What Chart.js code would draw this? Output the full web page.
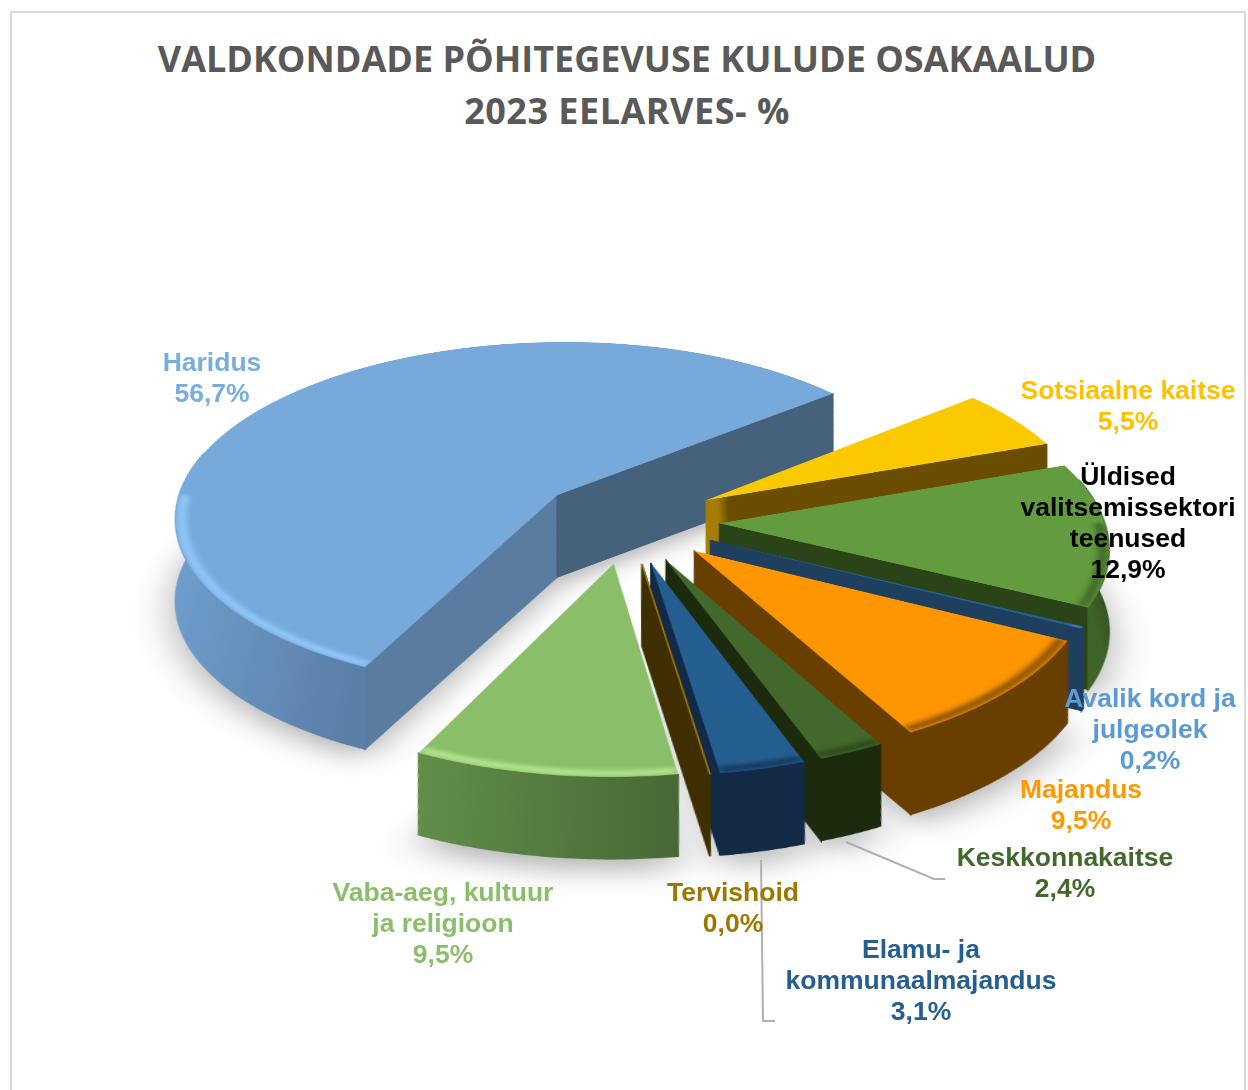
<!DOCTYPE html>
<html lang="et">
<head>
<meta charset="utf-8">
<title>Valdkondade põhitegevuse kulude osakaalud</title>
<script src="https://cdn.jsdelivr.net/npm/chart.js@4"></script>
<style>
  html, body { margin: 0; background: #fff; }
  body { position: relative; width: 1248px; height: 1090px; overflow: hidden; }
  #frame { position: absolute; left: 10px; top: 11px; width: 1232px; height: 1200px; border: 2px solid #d9d9d9; }
  #title { position: absolute; left: 10px; width: 1234px; top: 33px; text-align: center; margin: 0;
    font: 700 36px/52px "Open Sans", sans-serif; color: #595959; }
  #title span { letter-spacing: 0.5px; }
  #pie { position: absolute; left: -72px; top: -149px; transform-origin: 700px 644px; }
  #leaders { position: absolute; left: 0; top: 0; }
  .lbl { position: absolute; transform: translateX(-50%); text-align: center;
    font: 700 26.5px/31px "Liberation Sans", Arial, sans-serif; }
</style>
</head>
<body>
<div id="frame"></div>
<h1 id="title">VALDKONDADE PÕHITEGEVUSE KULUDE OSAKAALUD<br><span>2023 EELARVES- %</span></h1>
<canvas id="pie" width="1400" height="1400"></canvas>
<svg id="leaders" width="1248" height="1090" fill="none" stroke="#b0b0b0" stroke-width="2">
  <polyline points="846,842 934,879 945,879"/>
  <polyline points="761,860 763,1021 775,1021"/>
</svg>
<div id="labels"></div>
<script>
const CATEGORIES = ["Haridus", "Sotsiaalne kaitse", "Üldised valitsemissektori teenused", "Avalik kord ja julgeolek",
  "Majandus", "Keskkonnakaitse", "Elamu- ja kommunaalmajandus", "Tervishoid", "Vaba-aeg, kultuur ja religioon"];
const VALUES = [56.7, 5.5, 12.9, 0.2, 9.5, 2.4, 3.1, 0.0, 9.5];

// colours per slice: top face, radial cut face, rim (left, right), bevel, label
const TOP_COLORS = ["#77a9da", "#fac900", "#639c3e", "#255e91", "#fd9600", "#43682b", "#255e91", "#a5790a", "#8abe68"];
const CUT_COLORS = ["#5a7ca1", "#6b4d00", "#2a4317", "#1f3f5f", "#693f00", "#1c2b0e", "#122a45", "#3f2f00", "#4a6a36"];
const BACK_CUT_COLOR = "#46617c"; // Haridus face towards Sotsiaalne kaitse
const RIM_LEFT = ["#6f9fcf", "#6b4d00", "#3f6428", "#1f3f5f", "#693f00", "#1c2b0e", "#122a45", "#3f2f00", "#628f4a"];
const RIM_RIGHT = ["#5a7ea6", "#6b4d00", "#2f4a1c", "#1f3f5f", "#693f00", "#1c2b0e", "#122a45", "#3f2f00", "#486835"];
const BEVEL_COLORS = ["#93c8fb", "#fac900", "#3f6a28", "#5b9bd5", "#8a5200", "#2c4a1a", "#14395c", "#a5790a", "#b4e690"];
const LABEL_COLORS = ["#77aee0", "#ffc000", "#000000", "#5b9bd5", "#ff9900", "#43682b", "#255e91", "#9e7600", "#8abe68"];

// label centre x, top y, wrap width
const LABEL_BOX = [[212, 347, 200], [1128, 375, 240], [1128, 461, 226], [1150, 683, 190], [1081, 774, 160],
  [1065, 842, 240], [921, 934, 290], [733, 877, 160], [443, 877, 232]];

const PIE_RADIUS = 378;
const EXPLODE = 90;
const WALL_HEIGHT = 82; // on screen
const PERSPECTIVE = 2900;
const TILT_DEG = 63.1;
const ORIGIN_X = 700, ORIGIN_Y = 644; // same as transform-origin of #pie
const SIN = Math.sin(TILT_DEG * Math.PI / 180), COS = Math.cos(TILT_DEG * Math.PI / 180);

document.getElementById("pie").style.transform = `perspective(${PERSPECTIVE}px) rotateX(${TILT_DEG}deg)`;

// canvas point that ends up WALL_HEIGHT px straight below (px, py) once the canvas is tilted
function below(px, py) {
  const y = py - ORIGIN_Y;
  const s = PERSPECTIVE / (PERSPECTIVE - y * SIN);
  const X = (px - ORIGIN_X) * s, Y = y * COS * s + WALL_HEIGHT;
  const y2 = Y * PERSPECTIVE / (COS * PERSPECTIVE + Y * SIN);
  const s2 = PERSPECTIVE / (PERSPECTIVE - y2 * SIN);
  return [X / s2 + ORIGIN_X, y2 + ORIGIN_Y];
}

function rimRanges(a, b, margin) {
  // parts of the sector's arc that face the viewer
  const out = [];
  for (let k = -1; k < 3; k++) {
    const lo = Math.max(a, k * 2 * Math.PI - margin);
    const hi = Math.min(b, k * 2 * Math.PI + Math.PI + margin);
    if (hi > lo) out.push([lo, hi]);
  }
  return out;
}

function rimPoints(g, lo, hi) {
  const pts = [];
  for (let t = 0; t <= 60; t++) {
    const a = lo + (hi - lo) * t / 60;
    pts.push([g.x + Math.cos(a) * g.outerRadius, g.y + Math.sin(a) * g.outerRadius]);
  }
  return pts;
}

function fillCut(ctx, g, angle, color, i) {
  const ex = g.x + Math.cos(angle) * g.outerRadius, ey = g.y + Math.sin(angle) * g.outerRadius;
  const p1 = below(ex, ey), p2 = below(g.x, g.y);
  let paint = color;
  if (i === 1) {
    // lit end of the Sotsiaalne kaitse wall next to its tip
    paint = ctx.createLinearGradient(g.x, 0, ex, 0);
    paint.addColorStop(0, "#a57d00");
    paint.addColorStop(0.03, "#a57d00");
    paint.addColorStop(0.06, color);
  }
  ctx.fillStyle = paint;
  ctx.strokeStyle = paint;
  ctx.lineWidth = 1.5;
  ctx.beginPath();
  ctx.moveTo(g.x, g.y);
  ctx.lineTo(ex, ey);
  ctx.lineTo(p1[0], p1[1]);
  ctx.lineTo(p2[0], p2[1]);
  ctx.closePath();
  ctx.fill();
  ctx.stroke();
}

const sideWalls = {
  id: "sideWalls",
  afterDatasetsUpdate(chart) {
    // pull every slice out of the pie along its own mid angle
    chart.getDatasetMeta(0).data.forEach(el => {
      const mid = (el.startAngle + el.endAngle) / 2;
      el.x += Math.cos(mid) * EXPLODE;
      el.y += Math.sin(mid) * EXPLODE;
    });
  },
  beforeDatasetsDraw(chart) {
    const ctx = chart.ctx;
    const arcs = chart.getDatasetMeta(0).data;
    // soft shadow first
    ctx.save();
    ctx.shadowColor = "rgba(0,0,0,0.3)";
    ctx.shadowBlur = 36;
    ctx.shadowOffsetY = 16;
    arcs.forEach((g, i) => {
      if (VALUES[i] === 0) return;
      const apex = below(g.x, g.y);
      ctx.fillStyle = "#ffffff";
      ctx.beginPath();
      ctx.moveTo(apex[0], apex[1]);
      rimPoints(g, g.startAngle, g.endAngle).forEach(p => {
        const q = below(p[0], p[1]);
        ctx.lineTo(q[0], q[1]);
      });
      ctx.closePath();
      ctx.fill();
    });
    ctx.restore();

    arcs.forEach((g, i) => {
      if (Math.cos(g.startAngle) < 0 && VALUES[i] > 0) fillCut(ctx, g, g.startAngle, CUT_COLORS[i], i);
      if (Math.cos(g.endAngle) > 0) fillCut(ctx, g, g.endAngle, i === 0 ? BACK_CUT_COLOR : CUT_COLORS[i], i);
      rimRanges(g.startAngle, g.endAngle, 0.25).forEach(([lo, hi]) => {
        const pts = rimPoints(g, lo, hi);
        const grad = ctx.createLinearGradient(pts[60][0], 0, pts[0][0] + 0.1, 0);
        grad.addColorStop(0, RIM_LEFT[i]);
        grad.addColorStop(1, RIM_RIGHT[i]);
        ctx.fillStyle = grad;
        ctx.strokeStyle = grad;
        ctx.lineWidth = 1.5;
        ctx.beginPath();
        pts.forEach((p, t) => (t ? ctx.lineTo(p[0], p[1]) : ctx.moveTo(p[0], p[1])));
        pts.slice().reverse().forEach(p => {
          const q = below(p[0], p[1]);
          ctx.lineTo(q[0], q[1]);
        });
        ctx.closePath();
        ctx.fill();
        ctx.stroke();
      });
    });
  },
  afterDatasetsDraw(chart) {
    const ctx = chart.ctx;
    chart.getDatasetMeta(0).data.forEach((g, i) => {
      if (VALUES[i] === 0) {
        // an empty slice only shows as a thin line on its wall
        ctx.strokeStyle = TOP_COLORS[i];
        ctx.lineWidth = 1.5;
        ctx.beginPath();
        ctx.moveTo(g.x, g.y);
        ctx.lineTo(g.x + Math.cos(g.startAngle) * g.outerRadius, g.y + Math.sin(g.startAngle) * g.outerRadius);
        ctx.stroke();
        return;
      }
      rimRanges(g.startAngle, g.endAngle, 0).forEach(([lo, hi]) => {
        ctx.save();
        ctx.beginPath();
        ctx.moveTo(g.x, g.y);
        ctx.arc(g.x, g.y, g.outerRadius, g.startAngle, g.endAngle);
        ctx.closePath();
        ctx.clip();
        ctx.strokeStyle = BEVEL_COLORS[i];
        ctx.filter = "blur(3px)";
        ctx.lineWidth = 9;
        ctx.beginPath();
        ctx.arc(g.x, g.y, g.outerRadius - 6, lo, hi);
        ctx.stroke();
        ctx.restore();
      });
    });
  }
};

new Chart(document.getElementById("pie"), {
  type: "pie",
  data: {
    labels: CATEGORIES,
    datasets: [{ data: VALUES, backgroundColor: TOP_COLORS, borderWidth: 0 }]
  },
  options: {
    responsive: false,
    animation: false,
    events: [],
    radius: PIE_RADIUS,
    rotation: 205.8,
    plugins: { legend: { display: false }, tooltip: { enabled: false } }
  },
  plugins: [sideWalls]
});

const holder = document.getElementById("labels");
CATEGORIES.forEach((name, i) => {
  const [x, y, w] = LABEL_BOX[i];
  const div = document.createElement("div");
  div.className = "lbl";
  div.style.cssText = `left:${x}px;top:${y}px;width:${w}px;color:${LABEL_COLORS[i]}`;
  div.innerHTML = `${name}<br>${VALUES[i].toFixed(1).replace(".", ",")}%`;
  holder.appendChild(div);
});
</script>
</body>
</html>
